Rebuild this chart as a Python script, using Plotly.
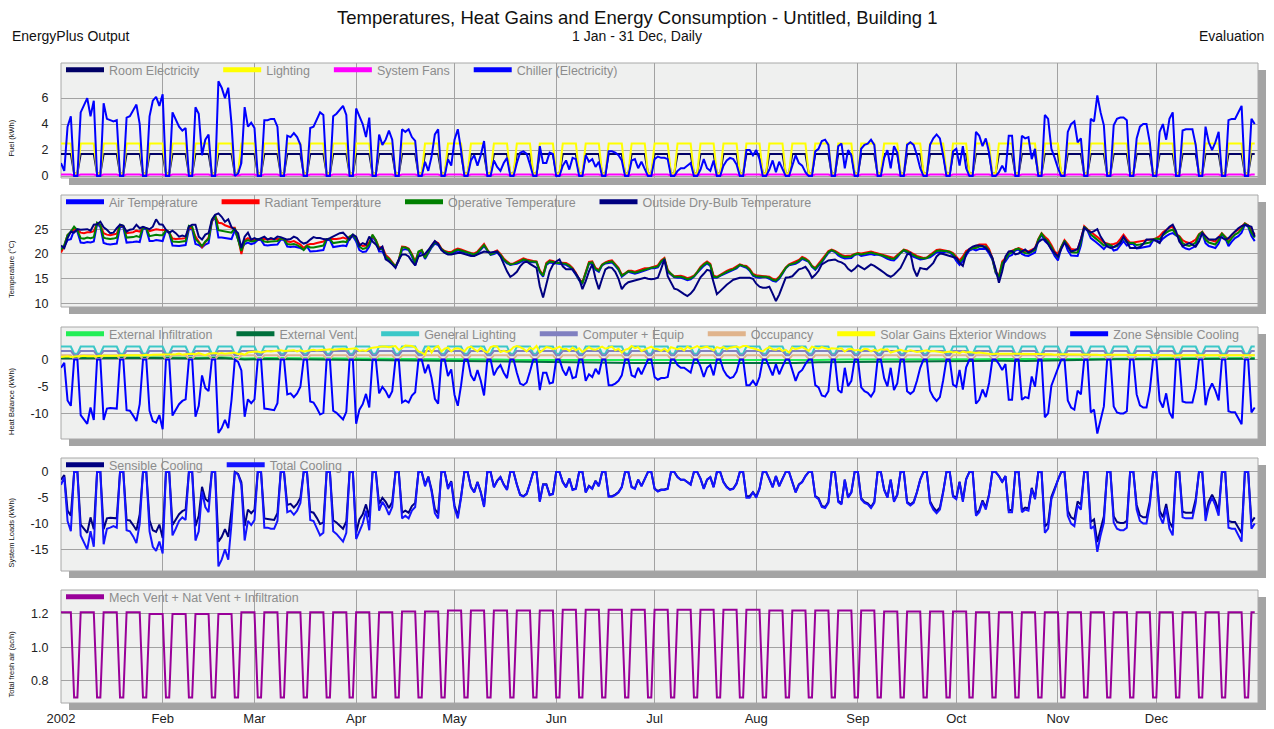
import pandas as pd
import plotly.graph_objects as go

# ---------------- data ----------------
START = "2002-01-01"
END = "2003-01-01"
DATES = pd.date_range(START, periods=365, freq="D")
WEEK_DATES = DATES[::7]

MONTH_STARTS = ["2002-01-01", "2002-02-01", "2002-03-01", "2002-04-01", "2002-05-01", "2002-06-01",
                "2002-07-01", "2002-08-01", "2002-09-01", "2002-10-01", "2002-11-01", "2002-12-01"]
MONTH_LABELS = ["2002", "Feb", "Mar", "Apr", "May", "Jun", "Jul", "Aug", "Sep", "Oct", "Nov", "Dec"]

# W = working day, E = weekend (1 Jan 2002 was a Tuesday)
DAY_TYPE = ("WWWWEE"
            "WWWWWEEWWWWWEEWWWWWEEWWWWWEE"
            "WWWWWEEWWWWWEEWWWWWEEWWWWWEE"
            "WWWWWEEWWWWWEEWWWWWEEWWWWWEE"
            "WWWWWEEWWWWWEEWWWWWEEWWWWWEE"
            "WWWWWEEWWWWWEEWWWWWEEWWWWWEE"
            "WWWWWEEWWWWWEEWWWWWEEWWWWWEE"
            "WWWWWEEWWWWWEEWWWWWEEWWWWWEE"
            "WWWWWEEWWWWWEEWWWWWEEWWWWWEE"
            "WWWWWEEWWWWWEEWWWWWEEWWWWWEE"
            "WWWWWEEWWWWWEEWWWWWEEWWWWWEE"
            "WWWWWEEWWWWWEEWWWWWEEWWWWWEE"
            "WWWWWEEWWWWWEEWWWWWEEWWWWWEE"
            "WWWWWEEWWWWWEEWWWWWEE"
            "WW")

# Panel 1 - fuel (kWh)
ROOM_ELEC_WD, ROOM_ELEC_WE = 1.7, 0.2
LIGHTING_WD, LIGHTING_WE = 2.5, 0.2
FANS_WD, FANS_WE = 0.12, 0.05
CHILLER = [
    1.0, 0.4, 3.8, 4.6, 0, 0,
    4.9, 5.5, 6.0, 4.6, 5.8, 0, 0,
    5.6, 4.4, 4.3, 4.2, 4.3, 0, 0,
    4.5, 4.6, 5.0, 5.5, 4.0, 0, 0,
    4.6, 5.8, 6.1, 5.4, 6.3, 0, 0,
    4.9, 4.4, 3.8, 3.5, 3.7, 0, 0,
    5.3, 4.8, 1.6, 2.8, 3.2, 0, 0,
    7.3, 6.8, 6.0, 6.8, 4.0, 0, 0.2,
    1.0, 5.3, 3.8, 4.1, 3.7, 0, 0,
    4.3, 4.3, 4.4, 4.4, 3.8, 0, 0,
    3.1, 3.0, 3.3, 3.0, 2.4, 0, 0,
    3.7, 3.8, 4.3, 4.9, 4.7, 0, 0,
    4.6, 4.8, 5.1, 5.4, 4.7, 0, 0,
    5.2, 4.6, 4.0, 3.0, 4.5, 0, 0,
    3.2, 2.4, 2.8, 3.5, 2.8, 0, 0,
    3.6, 3.4, 3.6, 3.0, 2.7, 0, 0,
    1.1, 0.4, 1.5, 3.2, 3.6, 0, 0,
    1.3, 0.8, 2.8, 3.6, 2.0, 0, 0,
    1.2, 1.6, 0.8, 1.6, 2.7, 0, 0,
    1.2, 0.7, 0.4, 1.0, 1.4, 0, 0,
    1.0, 1.8, 1.9, 1.7, 0.9, 0, 0,
    2.3, 1.0, 1.0, 1.8, 1.7, 0, 0,
    0.8, 1.2, 0.5, 1.4, 1.3, 0, 0,
    1.6, 1.1, 1.3, 0.7, 1.1, 0, 0,
    1.9, 1.9, 1.8, 1.6, 1.2, 0, 0,
    1.2, 1.3, 0.6, 1.1, 0.5, 0, 0,
    1.3, 1.5, 1.4, 1.4, 1.3, 0, 0,
    0.4, 0.6, 0.6, 0.8, 1.0, 0, 0,
    0.5, 1.3, 0.6, 0.4, 1.2, 0, 0,
    0.8, 1.2, 1.4, 1.3, 0.9, 0, 0,
    2.0, 2.0, 1.6, 2.0, 1.3, 0, 0,
    0.5, 1.2, 0.3, 1.1, 0.5, 0, 0,
    0.8, 1.6, 1.0, 0.8, 0.3, 0, 0,
    1.9, 2.1, 2.7, 2.8, 2.4, 0, 0,
    2.3, 2.5, 0.6, 2.0, 1.6, 0, 0,
    2.1, 2.4, 2.5, 2.8, 2.4, 0, 0,
    1.4, 2.0, 0.6, 2.3, 1.8, 0, 0,
    2.4, 2.6, 2.4, 1.6, 0.6, 0, 0,
    2.4, 2.9, 3.2, 2.9, 1.6, 0, 0,
    1.9, 2.1, 0.8, 2.3, 0.6, 0, 0,
    3.4, 3.1, 2.3, 2.9, 1.8, 0, 0,
    0.3, 0.8, 0.3, 3.1, 3.1, 0, 0,
    3.1, 2.9, 3.0, 1.3, 2.1, 0, 0,
    4.7, 4.4, 2.1, 1.4, 0.6, 0, 0,
    3.4, 4.0, 4.2, 2.6, 2.9, 0, 0,
    4.4, 4.2, 6.2, 4.9, 3.9, 0, 0,
    3.9, 4.4, 4.5, 4.5, 4.3, 0, 0,
    2.9, 3.8, 4.0, 4.0, 2.6, 0, 0,
    3.4, 4.0, 2.8, 4.4, 4.9, 0, 0,
    3.5, 3.6, 3.6, 3.6, 2.4, 0, 0,
    3.8, 2.6, 2.0, 2.6, 3.4, 0, 0,
    4.3, 4.4, 4.4, 4.9, 5.4, 0, 0,
    4.4, 4.0]

# Panel 2 - temperatures (deg C)
T_AIR = [
    21.0, 21.5, 22.8, 23.0, 24.8, 24.5,
    22.3, 22.2, 22.4, 22.3, 22.5, 26.0, 25.5,
    22.2, 22.0, 21.9, 22.0, 22.1, 25.5, 25.4,
    22.3, 22.3, 22.4, 22.5, 22.4, 25.2, 25.0,
    22.6, 22.6, 22.8, 22.7, 22.6, 24.7, 24.2,
    21.7, 21.6, 21.6, 21.7, 21.8, 25.0, 25.0,
    22.0, 21.8, 21.3, 21.9, 22.2, 26.5, 27.5,
    23.3, 23.3, 23.2, 23.2, 23.0, 24.8, 23.0,
    21.0, 22.0, 22.3, 22.0, 22.2, 22.8, 22.8,
    21.8, 21.7, 21.8, 21.8, 21.9, 22.9, 22.8,
    21.5, 21.4, 21.5, 21.4, 21.2, 20.9, 21.5,
    20.5, 20.5, 20.6, 20.7, 20.8, 22.8, 22.8,
    21.4, 21.5, 21.6, 21.7, 21.6, 23.3, 23.6,
    22.5, 20.8, 20.4, 20.5, 21.5, 23.5, 22.5,
    20.5, 20.5, 19.2, 18.7, 18.0, 17.4, 18.6,
    20.8, 21.0, 20.8, 19.5, 17.7, 19.8, 20.5,
    19.0, 20.1, 21.3, 22.1, 21.8, 20.9, 20.4,
    20.0, 20.0, 20.4, 20.7, 20.5, 20.4, 20.2,
    19.8, 19.7, 20.1, 20.8, 21.6, 20.7, 19.8,
    20.0, 20.3, 19.6, 18.7, 18.1, 17.8, 17.9,
    18.0, 18.3, 18.7, 18.5, 18.3, 18.4, 18.3,
    16.3, 15.4, 17.8, 18.3, 18.2, 18.1, 18.1,
    17.9, 17.8, 17.4, 16.8, 15.8, 14.7, 14.1,
    16.1, 18.0, 18.1, 16.8, 16.4, 17.7, 18.1,
    18.2, 18.3, 17.6, 16.8, 15.4, 15.9, 16.4,
    16.2, 16.0, 16.2, 16.4, 16.7, 16.9, 17.1,
    17.1, 17.3, 18.3, 18.8, 16.4, 15.8, 15.3,
    15.2, 15.2, 15.0, 14.7, 14.9, 15.4, 16.2,
    17.0, 17.6, 18.1, 17.6, 15.2, 15.2, 15.6,
    15.9, 16.2, 16.5, 16.7, 17.1, 17.7, 17.5,
    17.2, 16.6, 15.6, 15.3, 15.2, 15.3, 15.3,
    15.0, 14.6, 14.4, 15.0, 16.0, 17.1, 17.7,
    17.8, 18.0, 18.4, 19.0, 18.7, 18.4, 17.4,
    16.8, 17.6, 18.3, 19.3, 20.2, 20.7, 20.4,
    19.7, 19.3, 19.1, 19.2, 19.2, 19.8, 20.0,
    19.6, 19.7, 19.9, 20.0, 19.8, 19.9, 19.7,
    19.3, 19.0, 18.8, 18.7, 19.3, 20.2, 20.7,
    20.2, 19.8, 19.4, 19.1, 18.9, 19.0, 19.1,
    19.3, 19.8, 20.3, 20.4, 20.3, 20.5, 20.3,
    19.7, 18.6, 17.8, 18.6, 19.7, 20.7, 21.0,
    20.7, 21.0, 21.0, 21.0, 20.1, 18.9, 16.2,
    15.1, 17.8, 18.5, 19.5, 19.8, 20.7, 20.9,
    20.0, 19.7, 19.6, 20.0, 20.3, 22.7, 23.9,
    22.6, 22.0, 20.9, 19.6, 18.7, 21.2, 22.5,
    20.7, 19.7, 19.6, 19.6, 21.7, 25.3, 24.7,
    23.2, 22.7, 22.2, 21.6, 21.0, 21.8, 21.6,
    20.7, 20.9, 21.7, 22.6, 21.7, 22.0, 22.0,
    21.1, 21.2, 21.3, 21.5, 21.6, 22.7, 22.9,
    22.3, 23.1, 23.6, 24.0, 24.2, 23.7, 23.3,
    21.5, 21.1, 20.9, 21.2, 21.6, 23.7, 24.2,
    22.2, 21.6, 21.4, 21.2, 22.1, 23.9, 23.2,
    21.6, 22.5, 23.2, 23.6, 24.3, 25.9, 25.5,
    23.6, 22.6]

T_RAD = [
    20.3, 21.6, 23.8, 24.4, 25.0, 24.8,
    24.3, 24.2, 24.4, 24.4, 24.6, 26.2, 25.8,
    24.2, 23.9, 23.8, 23.9, 24.1, 25.8, 25.6,
    24.2, 24.3, 24.4, 24.7, 24.5, 25.3, 25.2,
    24.6, 24.8, 25.0, 24.9, 24.8, 24.8, 24.4,
    23.1, 23.0, 23.0, 23.1, 23.2, 25.3, 25.2,
    23.5, 22.5, 21.4, 22.4, 23.3, 26.6, 27.7,
    26.3, 26.2, 25.8, 25.6, 25.3, 25.3, 23.2,
    20.0, 22.8, 23.2, 22.8, 22.9, 23.0, 23.0,
    23.0, 22.9, 23.0, 23.0, 23.1, 23.1, 23.0,
    22.5, 22.4, 22.6, 22.3, 21.9, 21.2, 21.8,
    22.0, 22.0, 22.2, 22.4, 22.5, 23.0, 23.0,
    22.9, 23.0, 23.1, 23.3, 23.1, 23.4, 23.8,
    23.3, 22.0, 21.6, 21.7, 22.4, 23.7, 22.8,
    21.3, 21.4, 19.8, 19.2, 18.4, 17.5, 18.8,
    21.5, 21.4, 21.1, 20.0, 18.5, 20.3, 20.8,
    19.4, 20.5, 21.7, 22.5, 22.2, 21.1, 20.6,
    20.4, 20.4, 20.8, 21.1, 20.9, 20.6, 20.4,
    20.2, 20.1, 20.5, 21.2, 22.0, 20.9, 20.0,
    20.4, 20.7, 20.0, 19.1, 18.5, 18.0, 18.1,
    18.4, 18.7, 19.1, 18.9, 18.7, 18.6, 18.5,
    16.7, 15.8, 18.2, 18.7, 18.6, 18.3, 18.3,
    18.3, 18.2, 17.8, 17.2, 16.2, 14.9, 14.3,
    16.5, 18.4, 18.5, 17.2, 16.8, 17.9, 18.3,
    18.6, 18.7, 18.0, 17.2, 15.8, 16.1, 16.6,
    16.6, 16.4, 16.6, 16.8, 17.1, 17.1, 17.3,
    17.5, 17.7, 18.7, 19.2, 16.8, 16.0, 15.5,
    15.6, 15.6, 15.4, 15.1, 15.3, 15.6, 16.4,
    17.4, 18.0, 18.5, 18.0, 15.6, 15.4, 15.8,
    16.3, 16.6, 16.9, 17.1, 17.5, 17.9, 17.7,
    17.6, 17.0, 16.0, 15.7, 15.6, 15.5, 15.5,
    15.4, 15.0, 14.8, 15.4, 16.4, 17.3, 17.9,
    18.2, 18.4, 18.8, 19.4, 19.1, 18.6, 17.6,
    17.2, 18.0, 18.7, 19.7, 20.6, 20.9, 20.6,
    20.2, 19.8, 19.6, 19.7, 19.7, 20.0, 20.2,
    20.1, 20.2, 20.4, 20.5, 20.3, 20.1, 19.9,
    19.8, 19.5, 19.3, 19.2, 19.8, 20.4, 20.9,
    20.7, 20.3, 19.9, 19.6, 19.4, 19.2, 19.3,
    19.8, 20.3, 20.8, 20.9, 20.8, 20.7, 20.5,
    20.2, 19.5, 18.7, 19.5, 20.6, 21.0, 21.3,
    21.6, 21.9, 21.9, 21.9, 21.0, 19.2, 16.5,
    15.5, 18.5, 19.2, 20.4, 20.7, 21.0, 21.2,
    20.9, 20.6, 20.5, 20.9, 21.2, 23.0, 24.2,
    23.5, 22.9, 21.8, 20.5, 20.0, 21.5, 22.8,
    22.0, 21.0, 20.9, 20.9, 23.0, 25.6, 25.0,
    24.5, 24.0, 23.5, 22.9, 22.3, 22.1, 21.9,
    22.0, 22.2, 23.0, 23.9, 23.0, 22.3, 22.3,
    22.4, 22.5, 22.6, 22.8, 22.9, 23.0, 23.2,
    23.6, 24.4, 24.9, 25.3, 25.5, 24.0, 23.6,
    22.8, 22.4, 22.2, 22.5, 22.9, 24.0, 24.5,
    23.5, 22.9, 22.7, 22.5, 23.4, 24.2, 23.5,
    22.9, 23.8, 24.5, 24.9, 25.6, 26.2, 25.8,
    24.9, 23.9]

T_OP = [
    20.8, 21.8, 23.8, 24.5, 25.5, 24.8,
    23.2, 23.1, 23.3, 23.2, 23.4, 26.3, 25.8,
    23.3, 23.1, 23.0, 23.1, 23.3, 25.9, 25.7,
    23.3, 23.3, 23.4, 23.6, 23.4, 25.4, 25.2,
    23.6, 23.7, 23.9, 23.8, 23.8, 24.8, 24.4,
    22.5, 22.4, 22.4, 22.5, 22.6, 25.7, 25.5,
    23.0, 22.3, 21.6, 22.5, 23.0, 26.8, 27.8,
    24.8, 24.7, 24.5, 24.5, 24.3, 25.2, 23.0,
    20.6, 22.5, 22.8, 22.5, 22.6, 23.0, 23.0,
    22.5, 22.4, 22.5, 22.5, 22.6, 23.1, 23.0,
    22.0, 21.9, 22.0, 21.8, 21.4, 20.8, 21.6,
    21.3, 21.3, 21.4, 21.6, 21.7, 23.0, 23.0,
    22.2, 22.3, 22.4, 22.5, 22.4, 23.5, 23.9,
    23.0, 21.5, 21.0, 21.2, 22.0, 23.9, 22.8,
    21.0, 21.0, 19.5, 19.0, 18.2, 17.5, 18.8,
    21.3, 21.3, 21.0, 19.8, 18.2, 20.5, 20.8,
    19.2, 20.3, 21.5, 22.3, 22.0, 21.0, 20.5,
    20.2, 20.2, 20.6, 20.9, 20.7, 20.5, 20.3,
    20.0, 19.9, 20.3, 21.0, 21.8, 20.8, 19.9,
    20.2, 20.5, 19.8, 18.9, 18.3, 17.9, 18.0,
    18.2, 18.5, 18.9, 18.7, 18.5, 18.5, 18.4,
    16.5, 15.6, 18.0, 18.5, 18.4, 18.2, 18.2,
    18.1, 18.0, 17.6, 17.0, 16.0, 14.8, 14.2,
    16.3, 18.2, 18.3, 17.0, 16.6, 17.8, 18.2,
    18.4, 18.5, 17.8, 17.0, 15.6, 16.0, 16.5,
    16.4, 16.2, 16.4, 16.6, 16.9, 17.0, 17.2,
    17.3, 17.5, 18.5, 19.0, 16.6, 15.9, 15.4,
    15.4, 15.4, 15.2, 14.9, 15.1, 15.5, 16.3,
    17.2, 17.8, 18.3, 17.8, 15.4, 15.3, 15.7,
    16.1, 16.4, 16.7, 16.9, 17.3, 17.8, 17.6,
    17.4, 16.8, 15.8, 15.5, 15.4, 15.4, 15.4,
    15.2, 14.8, 14.6, 15.2, 16.2, 17.2, 17.8,
    18.0, 18.2, 18.6, 19.2, 18.9, 18.5, 17.5,
    17.0, 17.8, 18.5, 19.5, 20.4, 20.8, 20.5,
    20.0, 19.6, 19.4, 19.5, 19.5, 19.9, 20.1,
    19.9, 20.0, 20.2, 20.3, 20.1, 20.0, 19.8,
    19.6, 19.3, 19.1, 19.0, 19.6, 20.3, 20.8,
    20.5, 20.1, 19.7, 19.4, 19.2, 19.1, 19.2,
    19.6, 20.1, 20.6, 20.7, 20.6, 20.6, 20.4,
    20.0, 19.1, 18.3, 19.1, 20.2, 20.9, 21.2,
    21.2, 21.5, 21.5, 21.5, 20.6, 19.1, 16.4,
    15.3, 18.2, 18.9, 20.0, 20.3, 20.9, 21.1,
    20.5, 20.2, 20.1, 20.5, 20.8, 22.9, 24.1,
    23.1, 22.5, 21.4, 20.1, 19.4, 21.4, 22.7,
    21.4, 20.4, 20.3, 20.3, 22.4, 25.5, 24.9,
    23.9, 23.4, 22.9, 22.3, 21.7, 22.0, 21.8,
    21.4, 21.6, 22.4, 23.3, 22.4, 22.2, 22.2,
    21.8, 21.9, 22.0, 22.2, 22.3, 22.9, 23.1,
    23.0, 23.8, 24.3, 24.7, 24.9, 23.9, 23.5,
    22.2, 21.8, 21.6, 21.9, 22.3, 23.9, 24.4,
    22.9, 22.3, 22.1, 21.9, 22.8, 24.1, 23.4,
    22.3, 23.2, 23.9, 24.3, 25.0, 26.1, 25.7,
    24.3, 23.3]

T_OUT = [
    21.7, 21.2, 23.2, 24.5, 24.3, 25.0,
    24.9, 25.0, 25.0, 24.7, 25.9, 26.0, 26.5,
    25.4, 24.9, 24.2, 24.3, 25.2, 25.9, 25.7,
    24.5, 24.9, 25.0, 25.9, 25.2, 25.5, 25.2,
    25.0, 25.5, 27.0, 26.0, 25.9, 24.9, 24.3,
    24.7, 24.2, 23.5, 23.7, 23.5, 25.5, 25.9,
    25.9, 23.5, 22.9, 23.9, 24.2, 26.9, 27.9,
    28.2, 27.5, 26.5, 27.0, 25.4, 24.9, 24.2,
    21.2, 23.5, 24.3, 22.9, 23.2, 22.9, 23.2,
    23.5, 22.9, 23.2, 23.0, 23.5, 23.4, 23.2,
    22.9, 23.0, 23.5, 23.2, 22.5, 22.1, 22.3,
    22.9, 23.4, 23.2, 23.2, 23.0, 22.9, 23.2,
    23.5, 23.9, 24.2, 24.3, 23.5, 22.9, 23.9,
    23.5, 21.7, 22.2, 21.9, 23.5, 22.5, 21.9,
    20.9, 21.5, 18.9, 18.5, 17.9, 17.2, 18.9,
    19.9, 19.9, 19.5, 18.5, 17.7, 19.5, 19.8,
    20.0, 20.8, 21.8, 22.6, 22.0, 20.8, 20.2,
    19.9, 19.9, 20.1, 20.2, 20.2, 20.0, 19.8,
    19.6, 19.6, 19.9, 20.2, 20.5, 20.4, 20.3,
    20.4, 20.5, 19.5, 18.0, 16.5, 15.4, 15.8,
    16.4, 17.5, 18.2, 18.5, 18.0, 17.6, 17.2,
    13.5, 11.2, 13.9, 16.5, 17.8, 18.5, 18.9,
    17.5, 16.9, 16.9, 16.9, 16.0, 15.0, 12.9,
    14.5, 16.5, 17.9, 15.0, 12.9, 15.0, 16.9,
    17.3, 17.2, 16.4, 15.0, 12.9, 13.8, 14.3,
    14.5, 14.7, 14.9, 15.0, 15.2, 15.0, 14.9,
    15.0, 15.2, 17.0, 18.9, 15.5, 14.2, 13.0,
    12.8, 12.3, 11.9, 11.5, 12.0, 12.8, 14.0,
    15.3, 16.0, 16.8, 16.6, 14.0, 11.9, 12.5,
    13.2, 13.8, 14.3, 14.8, 15.0, 15.2, 15.2,
    15.2, 15.2, 15.0, 14.0, 13.4, 13.2, 13.2,
    13.4, 12.0, 10.5, 11.8, 13.5, 15.2, 15.3,
    15.5, 16.2, 16.9, 17.1, 17.4, 16.5, 15.2,
    15.8, 16.6, 17.9, 18.3, 18.7, 18.8, 18.9,
    18.5, 18.3, 17.9, 17.0, 16.5, 17.0, 17.7,
    17.3, 16.9, 17.4, 17.9, 17.6, 17.2, 16.7,
    16.2, 15.7, 15.4, 15.8, 16.5, 17.2, 18.5,
    19.9, 20.2, 17.0, 15.5, 17.2, 17.0, 16.9,
    17.5, 18.2, 19.5, 20.1, 20.0, 19.8, 19.6,
    19.4, 19.2, 18.2, 17.6, 20.0, 21.0, 21.5,
    21.7, 21.7, 21.6, 21.2, 20.5, 19.2, 17.0,
    14.2, 16.5, 19.5, 20.5, 20.6, 19.9, 20.1,
    20.5, 20.9, 20.3, 20.6, 21.2, 22.4, 22.9,
    22.9, 22.0, 20.9, 20.2, 19.5, 21.0, 22.3,
    21.5, 20.5, 20.7, 21.0, 23.0, 25.3, 24.8,
    24.3, 24.6, 25.0, 23.5, 22.5, 21.5, 21.2,
    21.4, 21.8, 22.2, 23.5, 22.5, 21.2, 21.2,
    21.2, 21.4, 22.0, 22.9, 22.9, 22.9, 22.6,
    22.2, 24.0, 24.8, 25.5, 25.9, 24.6, 22.5,
    21.6, 21.9, 22.2, 21.9, 21.5, 22.5, 24.2,
    23.6, 22.9, 22.9, 22.9, 23.4, 23.3, 22.9,
    23.2, 23.9, 24.6, 25.2, 25.6, 25.9, 25.7,
    25.5, 23.5]

# Panel 3 - heat balance (kWh)
INFILTRATION_WEEKLY = [0.40, 0.45, 0.40, 0.42, 0.42, 0.35, 0.35, 0.45, 0.20, 0.30, 0.28, 0.25, 0.30,
                       0.25, 0.15, 0.10, 0.10, 0.05, 0.05, 0.0, -0.05, -0.05, -0.1, -0.1, -0.1, -0.1,
                       -0.1, -0.15, -0.1, -0.1, -0.1, -0.15, -0.1, -0.05, 0.0, 0.0, -0.05, 0.0, 0.0,
                       0.05, 0.05, 0.1, 0.05, 0.1, 0.1, 0.15, 0.2, 0.2, 0.2, 0.25, 0.25, 0.3, 0.3]
VENT_WEEKLY = [0.25, 0.30, 0.25, 0.28, 0.28, 0.20, 0.20, 0.30, 0.0, 0.10, 0.05, 0.0, 0.05,
               0.0, -0.15, -0.20, -0.25, -0.30, -0.35, -0.40, -0.45, -0.50, -0.55, -0.60, -0.60, -0.60,
               -0.60, -0.65, -0.60, -0.60, -0.60, -0.65, -0.60, -0.50, -0.45, -0.40, -0.45, -0.40, -0.35,
               -0.30, -0.25, -0.20, -0.25, -0.15, -0.10, 0.0, 0.05, 0.05, 0.05, 0.10, 0.10, 0.15, 0.15]
GEN_LIGHTING_WD, GEN_LIGHTING_WE = 2.4, 1.1
COMPUTER_WD, COMPUTER_WE = 1.6, 0.8
OCCUPANCY_WD, OCCUPANCY_WE = 0.8, 0.1
SOLAR = [
    0.5, 0.6, 0.6, 0.5, 0.6, 0.6,
    0.6, 0.7, 0.6, 0.6, 0.5, 0.6, 0.7,
    0.7, 0.7, 0.6, 0.7, 0.7, 0.8, 0.8,
    0.7, 0.8, 0.8, 0.8, 0.7, 0.8, 0.9,
    0.8, 0.9, 0.9, 0.9, 1.0, 1.0, 0.9,
    1.0, 1.0, 1.1, 0.9, 1.0, 1.1, 1.1,
    1.0, 1.2, 1.0, 0.8, 1.1, 1.2, 1.2,
    1.1, 1.2, 1.1, 1.2, 1.2, 1.3, 1.0,
    1.1, 0.9, 1.3, 1.4, 1.4, 1.5, 1.3,
    1.5, 1.6, 1.5, 1.6, 1.6, 1.7, 1.6,
    1.6, 1.7, 1.7, 1.5, 1.7, 1.5, 1.6,
    1.8, 1.8, 1.7, 1.8, 1.8, 1.8, 1.9,
    1.8, 1.9, 1.9, 2.0, 1.9, 2.0, 2.0,
    2.1, 1.6, 1.7, 1.6, 2.0, 2.2, 2.3,
    2.4, 2.4, 2.4, 2.3, 2.4, 2.5, 1.8,
    2.1, 2.6, 2.6, 2.5, 2.2, 1.5, 1.3,
    0.9, 2.4, 1.3, 2.2, 2.5, 1.5, 2.0,
    2.2, 1.5, 2.0, 2.1, 1.9, 1.5, 2.2,
    2.4, 1.9, 1.5, 2.2, 1.6, 1.3, 2.3,
    2.5, 2.4, 1.4, 1.6, 1.4, 1.7, 2.3,
    2.5, 2.3, 2.0, 1.5, 2.2, 1.9, 2.5,
    1.3, 1.8, 2.3, 2.2, 1.9, 2.1, 2.4,
    1.9, 2.0, 1.6, 2.2, 1.7, 2.1, 1.4,
    1.9, 2.3, 1.9, 1.8, 2.1, 2.4, 2.0,
    2.2, 2.4, 1.7, 2.0, 1.3, 1.8, 2.0,
    2.5, 2.1, 2.3, 1.6, 1.9, 2.2, 2.4,
    2.0, 1.9, 1.6, 2.0, 1.5, 2.3, 2.1,
    1.9, 2.1, 1.7, 2.4, 2.0, 2.2, 2.5,
    2.1, 2.2, 2.4, 2.0, 1.7, 2.3, 2.1,
    2.3, 1.9, 2.2, 2.3, 2.4, 2.2, 2.5,
    2.5, 2.2, 2.1, 1.9, 1.7, 1.5, 2.0,
    2.3, 1.9, 1.8, 2.1, 1.6, 1.8, 1.3,
    2.2, 1.9, 2.1, 2.3, 2.0, 1.6, 2.4,
    2.2, 2.0, 2.3, 2.1, 1.9, 2.1, 2.0,
    2.0, 2.1, 1.5, 1.9, 2.0, 1.7, 1.8,
    1.6, 2.0, 1.9, 1.5, 1.8, 1.6, 1.9,
    1.8, 1.9, 1.3, 1.5, 1.7, 1.8, 1.6,
    1.5, 1.7, 1.6, 1.4, 1.5, 1.6, 1.7,
    1.5, 1.6, 1.5, 1.4, 1.3, 1.4, 1.5,
    1.3, 1.4, 1.2, 1.5, 1.3, 1.4, 1.3,
    1.2, 1.3, 1.2, 1.1, 1.1, 1.0, 1.1,
    1.1, 1.0, 1.1, 1.1, 1.0, 1.0, 1.1,
    1.1, 1.0, 1.0, 1.1, 1.1, 1.0, 1.0,
    1.0, 1.0, 1.0, 0.9, 1.0, 1.0, 1.0,
    1.0, 0.9, 0.9, 1.0, 1.0, 0.9, 0.9,
    0.9, 0.9, 0.9, 0.8, 0.9, 0.9, 0.9,
    0.9, 0.8, 0.9, 0.9, 0.8, 0.9, 0.9,
    0.8, 0.9, 0.8, 0.8, 0.8, 0.8, 0.8,
    0.8, 0.8, 0.8, 0.8, 0.7, 0.8, 0.8,
    0.8, 0.8, 0.7, 0.8, 0.8, 0.7, 0.8,
    0.8, 0.7, 0.7, 0.8, 0.7, 0.7, 0.8,
    0.7, 0.7, 0.8, 0.7, 0.7, 0.7, 0.8,
    0.8, 0.8]

# Panel 3 zone sensible cooling == panel 4 sensible cooling (kWh)
SENSIBLE_COOLING = [
    -1.5, -0.6, -7.5, -8.5, 0, 0,
    -10.2, -11.1, -11.8, -8.8, -11.1, 0, 0,
    -11.1, -9.0, -8.9, -8.9, -9.0, 0, 0,
    -9.3, -9.4, -10.3, -11.3, -8.2, 0, 0,
    -9.4, -11.3, -11.6, -10.2, -12.8, 0, 0,
    -10.3, -9.2, -8.2, -7.6, -7.3, 0, 0,
    -10.5, -8.5, -2.9, -5.2, -5.8, 0, 0,
    -13.5, -12.6, -11.1, -12.6, -7.4, 0, -0.4,
    -2.0, -10.5, -7.3, -8.0, -7.3, 0, 0,
    -9.0, -9.1, -9.2, -9.3, -8.0, 0, 0,
    -6.4, -6.2, -6.9, -6.2, -5.0, 0, 0,
    -7.7, -7.9, -8.9, -10.1, -9.8, 0, 0,
    -9.4, -9.8, -10.5, -11.0, -9.6, 0, 0,
    -11.8, -9.2, -8.2, -6.3, -8.8, 0, 0,
    -6.2, -5.0, -5.8, -7.0, -5.8, 0, 0,
    -7.9, -7.5, -7.9, -6.6, -6.0, 0, 0,
    -2.5, -0.9, -3.4, -7.2, -8.1, 0, 0,
    -3.0, -1.8, -6.5, -8.5, -4.7, 0, 0,
    -2.9, -3.9, -1.9, -3.9, -6.6, 0, 0,
    -2.9, -1.7, -1.0, -2.4, -3.4, 0, 0,
    -2.4, -4.4, -4.7, -4.2, -2.2, 0, 0,
    -5.6, -2.4, -2.4, -4.4, -4.2, 0, 0,
    -1.9, -2.9, -1.3, -3.4, -3.2, 0, 0,
    -3.9, -2.7, -3.2, -1.7, -2.7, 0, 0,
    -4.7, -4.7, -4.4, -3.9, -2.9, 0, 0,
    -2.9, -3.2, -1.5, -2.7, -1.3, 0, 0,
    -3.2, -3.7, -3.4, -3.4, -3.2, 0, 0,
    -1.0, -1.5, -1.5, -1.9, -2.4, 0, 0,
    -1.3, -3.2, -1.5, -1.0, -2.9, 0, 0,
    -1.9, -2.9, -3.4, -3.2, -2.2, 0, 0,
    -4.7, -4.7, -3.9, -4.8, -3.2, 0, 0,
    -1.3, -2.9, -0.8, -2.7, -1.3, 0, 0,
    -1.9, -3.9, -2.4, -1.9, -0.8, 0, 0,
    -4.7, -5.1, -6.6, -6.8, -5.8, 0, 0,
    -5.6, -6.1, -1.5, -4.9, -3.9, 0, 0,
    -5.1, -5.8, -6.1, -6.8, -5.8, 0, 0,
    -3.4, -4.9, -1.5, -5.6, -4.4, 0, 0,
    -5.8, -6.3, -5.8, -3.9, -1.5, 0, 0,
    -5.7, -6.9, -7.6, -6.9, -3.8, 0, 0,
    -4.6, -5.0, -1.9, -5.5, -1.4, 0, 0,
    -8.1, -7.4, -5.5, -6.9, -4.3, 0, 0,
    -0.8, -1.9, -0.8, -7.4, -7.4, 0, 0,
    -7.4, -6.9, -7.1, -3.1, -5.0, 0, 0,
    -10.6, -9.9, -4.8, -3.2, -1.4, 0, 0,
    -7.5, -8.8, -9.2, -5.7, -6.4, 0, 0,
    -9.7, -9.2, -13.6, -10.8, -8.6, 0, 0,
    -8.6, -9.7, -9.9, -9.9, -9.5, 0, 0,
    -6.4, -8.4, -8.8, -8.8, -5.7, 0, 0,
    -7.5, -8.8, -6.2, -9.7, -10.8, 0, 0,
    -7.7, -7.9, -7.9, -7.9, -5.3, 0, 0,
    -8.4, -5.7, -4.4, -5.7, -7.5, 0, 0,
    -9.5, -9.7, -9.7, -10.8, -11.9, 0, 0,
    -9.7, -8.8]

# Panel 4 - total cooling (kWh)
TOTAL_COOLING = [
    -2.5, -1.0, -9.5, -11.5, 0, 0,
    -12.3, -13.8, -15.0, -11.5, -14.5, 0, 0,
    -14.0, -11.0, -10.8, -10.5, -10.8, 0, 0,
    -11.3, -11.5, -12.5, -13.8, -10.0, 0, 0,
    -11.5, -14.5, -15.3, -13.5, -15.8, 0, 0,
    -12.3, -11.0, -9.5, -8.8, -9.3, 0, 0,
    -13.3, -11.5, -3.8, -6.8, -7.8, 0, 0,
    -18.3, -17.0, -15.0, -17.0, -10.0, 0, -0.5,
    -2.5, -13.3, -9.5, -10.3, -9.3, 0, 0,
    -10.8, -10.8, -11.0, -11.0, -9.5, 0, 0,
    -7.8, -7.5, -8.3, -7.5, -6.0, 0, 0,
    -9.3, -9.5, -10.8, -12.3, -11.8, 0, 0,
    -11.5, -12.0, -12.8, -13.5, -11.8, 0, 0,
    -13.0, -11.5, -10.0, -7.5, -11.3, 0, 0,
    -7.5, -5.8, -6.8, -8.3, -6.8, 0, 0,
    -9.0, -8.5, -9.0, -7.5, -6.8, 0, 0,
    -2.8, -1.0, -3.8, -8.0, -9.0, 0, 0,
    -3.3, -2.0, -7.0, -9.0, -5.0, 0, 0,
    -3.0, -4.0, -2.0, -4.0, -6.8, 0, 0,
    -3.0, -1.8, -1.0, -2.5, -3.5, 0, 0,
    -2.5, -4.5, -4.8, -4.3, -2.3, 0, 0,
    -5.8, -2.5, -2.5, -4.5, -4.3, 0, 0,
    -2.0, -3.0, -1.3, -3.5, -3.3, 0, 0,
    -4.0, -2.8, -3.3, -1.8, -2.8, 0, 0,
    -4.8, -4.8, -4.5, -4.0, -3.0, 0, 0,
    -3.0, -3.3, -1.5, -2.8, -1.3, 0, 0,
    -3.3, -3.8, -3.5, -3.5, -3.3, 0, 0,
    -1.0, -1.5, -1.5, -2.0, -2.5, 0, 0,
    -1.3, -3.3, -1.5, -1.0, -3.0, 0, 0,
    -2.0, -3.0, -3.5, -3.3, -2.3, 0, 0,
    -5.0, -5.0, -4.0, -5.0, -3.3, 0, 0,
    -1.3, -3.0, -0.8, -2.8, -1.3, 0, 0,
    -2.0, -4.0, -2.5, -2.0, -0.8, 0, 0,
    -4.8, -5.3, -6.8, -7.0, -6.0, 0, 0,
    -5.8, -6.3, -1.5, -5.0, -4.0, 0, 0,
    -5.3, -6.0, -6.3, -7.0, -6.0, 0, 0,
    -3.5, -5.0, -1.5, -5.8, -4.5, 0, 0,
    -6.0, -6.5, -6.0, -4.0, -1.5, 0, 0,
    -6.0, -7.3, -8.0, -7.3, -4.0, 0, 0,
    -4.8, -5.3, -2.0, -5.8, -1.5, 0, 0,
    -8.5, -7.8, -5.8, -7.3, -4.5, 0, 0,
    -0.8, -2.0, -0.8, -7.8, -7.8, 0, 0,
    -7.8, -7.3, -7.5, -3.3, -5.3, 0, 0,
    -11.8, -11.0, -5.3, -3.5, -1.5, 0, 0,
    -8.5, -10.0, -10.5, -6.5, -7.3, 0, 0,
    -11.0, -10.5, -15.5, -12.3, -9.8, 0, 0,
    -9.8, -11.0, -11.3, -11.3, -10.8, 0, 0,
    -7.3, -9.5, -10.0, -10.0, -6.5, 0, 0,
    -8.5, -10.0, -7.0, -11.0, -12.3, 0, 0,
    -8.8, -9.0, -9.0, -9.0, -6.0, 0, 0,
    -9.5, -6.5, -5.0, -6.5, -8.5, 0, 0,
    -10.8, -11.0, -11.0, -12.3, -13.5, 0, 0,
    -11.0, -10.0]

# Panel 5 - total fresh air (ac/h): working-day level per week, weekend level
FRESH_AIR_WD_WEEKLY = [1.21, 1.21, 1.21, 1.21, 1.20, 1.20, 1.20, 1.20, 1.21, 1.21, 1.21, 1.21, 1.21,
                       1.21, 1.21, 1.215, 1.215, 1.22, 1.22, 1.22, 1.22, 1.22, 1.225, 1.225, 1.225, 1.225,
                       1.225, 1.225, 1.225, 1.225, 1.225, 1.22, 1.22, 1.22, 1.22, 1.22, 1.215, 1.215, 1.215,
                       1.215, 1.21, 1.21, 1.21, 1.21, 1.21, 1.21, 1.21, 1.21, 1.21, 1.21, 1.21, 1.21, 1.21]
FRESH_AIR_WE = 0.70

for arr in (CHILLER, T_AIR, T_RAD, T_OP, T_OUT, SOLAR, SENSIBLE_COOLING, TOTAL_COOLING):
    assert len(arr) == 365, len(arr)
assert len(DAY_TYPE) == 365, len(DAY_TYPE)


def by_day_type(wd, we):
    return [wd if t == "W" else we for t in DAY_TYPE]


def week_of(d):
    return 0 if d < 6 else (d - 6) // 7 + 1


FRESH_AIR = [FRESH_AIR_WD_WEEKLY[week_of(d)] if DAY_TYPE[d] == "W" else FRESH_AIR_WE for d in range(365)]

# ---------------- figure ----------------
FONT = "Liberation Sans, Arial, sans-serif"
GRID = "#a2a2a2"
PANEL_BG = "#eff0ef"
NBSP = "\u00a0"

W, H = 1274, 729
ML, MR, MT, MB = 61, 16, 0, 26
PW, PH = W - ML - MR, H - MT - MB

# panel pixel extents (top, bottom)
PANELS_PX = [(63, 178), (195, 307), (327, 439), (458, 571), (590, 703)]


def py(ypx):
    return (PH - (ypx - MT)) / PH


def px(xpx):
    return (xpx - ML) / PW


DOMAINS = [[py(b), py(t)] for t, b in PANELS_PX]

fig = go.Figure()


def add_series(x, y, name, color, panel, width=2.0):
    yref = "y" if panel == 1 else "y%d" % panel
    leg = "legend" if panel == 1 else "legend%d" % panel
    fig.add_trace(go.Scatter(x=x, y=y, mode="lines", line=dict(color=color, width=width),
                             xaxis="x", yaxis=yref, showlegend=False, hoverinfo="skip"))
    fig.add_trace(go.Scatter(x=[None], y=[None], mode="lines", line=dict(color=color, width=5),
                             name=name + NBSP * 4, xaxis="x", yaxis=yref, showlegend=True, legend=leg))


# panel 1
add_series(DATES, by_day_type(ROOM_ELEC_WD, ROOM_ELEC_WE), "Room Electricity", "#000066", 1)
add_series(DATES, by_day_type(LIGHTING_WD, LIGHTING_WE), "Lighting", "#ffff00", 1)
add_series(DATES, by_day_type(FANS_WD, FANS_WE), "System Fans", "#ff00ff", 1)
add_series(DATES, CHILLER, "Chiller (Electricity)", "#0000ff", 1)
# panel 2
add_series(DATES, T_AIR, "Air Temperature", "#0000ff", 2)
add_series(DATES, T_RAD, "Radiant Temperature", "#ff0000", 2)
add_series(DATES, T_OP, "Operative Temperature", "#008000", 2)
add_series(DATES, T_OUT, "Outside Dry-Bulb Temperature", "#000080", 2)
# panel 3
add_series(WEEK_DATES, INFILTRATION_WEEKLY, "External Infiltration", "#22ee55", 3)
add_series(WEEK_DATES, VENT_WEEKLY, "External Vent.", "#00703c", 3)
add_series(DATES, by_day_type(GEN_LIGHTING_WD, GEN_LIGHTING_WE), "General Lighting", "#3cc8c8", 3)
add_series(DATES, by_day_type(COMPUTER_WD, COMPUTER_WE), "Computer + Equip", "#8080c0", 3)
add_series(DATES, by_day_type(OCCUPANCY_WD, OCCUPANCY_WE), "Occupancy", "#e0b48c", 3)
add_series(DATES, SOLAR, "Solar Gains Exterior Windows", "#ffff00", 3)
add_series(DATES, SENSIBLE_COOLING, "Zone Sensible Cooling", "#0000ff", 3)
# panel 4
add_series(DATES, SENSIBLE_COOLING, "Sensible Cooling", "#000080", 4)
add_series(DATES, TOTAL_COOLING, "Total Cooling", "#1414ff", 4)
# panel 5
add_series(DATES, FRESH_AIR, "Mech Vent + Nat Vent + Infiltration", "#990099", 5)

Y_RANGES = [[-0.15, 8.7], [9.3, 31.9], [-14.6, 6.0], [-19.2, 2.7], [0.667, 1.343]]
Y_TICKS = [[0, 2, 4, 6], [10, 15, 20, 25], [-10, -5, 0], [-15, -10, -5, 0], [0.8, 1.0, 1.2]]
Y_TICKTEXT = [["0", "2", "4", "6"], ["10", "15", "20", "25"], ["-10", "-5", "0"],
              ["-15", "-10", "-5", "0"], ["0.8", "1.0", "1.2"]]
Y_TITLES = ["Fuel (kWh)", "Temperature (\u00b0C)", "Heat Balance (kWh)", "System Loads (kWh)",
            "Total fresh air (ac/h)"]

layout = dict(
    width=W, height=H, margin=dict(l=ML, r=MR, t=MT, b=MB, pad=0),
    paper_bgcolor="white", plot_bgcolor="rgba(0,0,0,0)",
    font=dict(family=FONT, color="#222"), hovermode=False, showlegend=True,
    xaxis=dict(domain=[0, 1], anchor="y5", range=[START, END], tickvals=MONTH_STARTS,
               ticktext=MONTH_LABELS, showgrid=True, gridcolor=GRID, gridwidth=1, zeroline=False,
               showline=False, ticks="outside", ticklen=3, tickcolor="rgba(0,0,0,0)",
               tickfont=dict(size=13, color="#222", family=FONT)),
)

shapes = []
annotations = []
dx, dy = 8 / PW, 7 / PH
for i in range(5):
    key = "yaxis" if i == 0 else "yaxis%d" % (i + 1)
    layout[key] = dict(domain=DOMAINS[i], anchor="x", range=Y_RANGES[i], tickvals=Y_TICKS[i],
                       ticktext=Y_TICKTEXT[i], showgrid=True, gridcolor=GRID, gridwidth=1,
                       zeroline=False, showline=False, ticks="outside", ticklen=9,
                       tickcolor="rgba(0,0,0,0)", tickfont=dict(size=12.5, color="#222", family=FONT))
    y0, y1 = DOMAINS[i]
    shapes.append(dict(type="rect", xref="paper", yref="paper", x0=dx, x1=1 + dx, y0=y0 - dy, y1=y1 - dy,
                       fillcolor="#a4a4a4", line=dict(width=0), layer="below"))
    shapes.append(dict(type="rect", xref="paper", yref="paper", x0=0, x1=1, y0=y0, y1=y1,
                       fillcolor=PANEL_BG, line=dict(color="#a8a8a8", width=1), layer="below"))
    leg = "legend" if i == 0 else "legend%d" % (i + 1)
    layout[leg] = dict(orientation="h", x=0.0, xanchor="left", y=y1 + 8 / PH, yanchor="top",
                       bgcolor="rgba(0,0,0,0)", borderwidth=0, itemwidth=38, tracegroupgap=0,
                       font=dict(size=12.5, color="#8c8c8c", family=FONT), itemclick=False,
                       itemdoubleclick=False)
    t_px, b_px = PANELS_PX[i]
    annotations.append(dict(text=Y_TITLES[i], xref="paper", yref="paper", x=px(11),
                            y=py((t_px + b_px) / 2 + 18), textangle=-90, showarrow=False,
                            xanchor="center", yanchor="middle",
                            font=dict(size=7.5, color="#111", family=FONT)))

annotations += [
    dict(text="Temperatures, Heat Gains and Energy Consumption - Untitled, Building 1", xref="paper",
         yref="paper", x=px(637), y=py(17), showarrow=False, xanchor="center", yanchor="middle",
         font=dict(size=18.5, color="#111", family=FONT)),
    dict(text="1 Jan - 31 Dec, Daily", xref="paper", yref="paper", x=px(637), y=py(36), showarrow=False,
         xanchor="center", yanchor="middle", font=dict(size=14, color="#111", family=FONT)),
    dict(text="EnergyPlus Output", xref="paper", yref="paper", x=px(10), y=py(36), showarrow=False,
         xanchor="left", yanchor="middle", font=dict(size=14, color="#111", family=FONT)),
    dict(text="Evaluation", xref="paper", yref="paper", x=px(1266), y=py(36), showarrow=False,
         xanchor="right", yanchor="middle", font=dict(size=14, color="#111", family=FONT)),
]
layout["shapes"] = shapes
layout["annotations"] = annotations
fig.update_layout(**layout)

fig.write_html("out.html", config={"displayModeBar": False},
               post_script="document.body.style.margin='0';document.body.style.overflow='hidden';")
